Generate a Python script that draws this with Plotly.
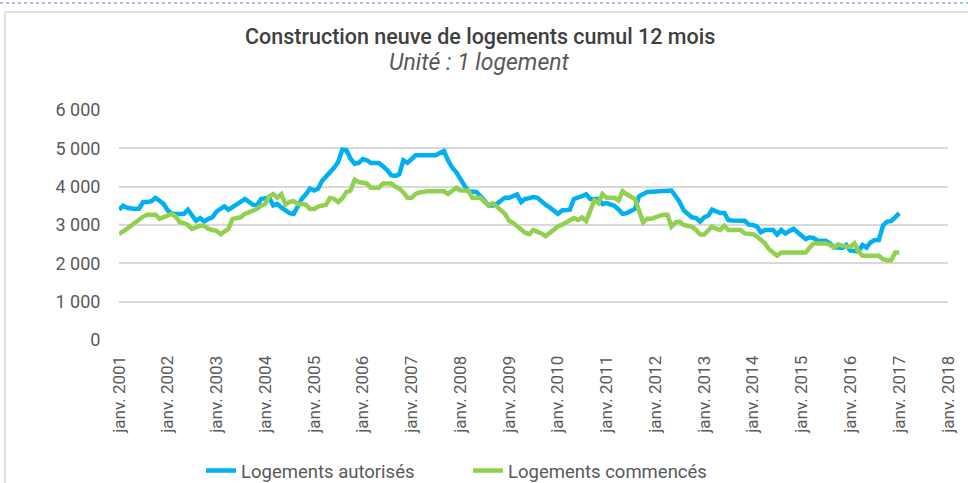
import pandas as pd
import plotly.graph_objects as go

# Monthly series, janv. 2001 -> janv. 2017
autorises = [
    3400, 3500, 3450, 3420, 3420, 3430, 3600, 3600, 3620, 3710, 3620, 3550,
    3380, 3300, 3290, 3290, 3290, 3400, 3250, 3110, 3180, 3090, 3160, 3200,
    3350, 3420, 3490, 3400, 3460, 3510, 3600, 3680, 3600, 3530, 3510, 3680,
    3700, 3710, 3510, 3550, 3460, 3380, 3310, 3290, 3510, 3680, 3800, 3950,
    3900, 3950, 4150, 4250, 4380, 4500, 4650, 4970, 4950, 4730, 4600, 4620,
    4720, 4690, 4620, 4620, 4620, 4530, 4440, 4300, 4280, 4320, 4690, 4620,
    4730, 4820, 4820, 4820, 4820, 4820, 4820, 4880, 4930, 4690, 4500, 4380,
    4230, 4030, 3880, 3870, 3860, 3750, 3640, 3510, 3510, 3550, 3640, 3710,
    3710, 3750, 3800, 3600, 3680, 3700, 3730, 3710, 3600, 3530, 3460, 3390,
    3290, 3380, 3400, 3400, 3680, 3710, 3750, 3800, 3680, 3680, 3680, 3550,
    3570, 3530, 3500, 3400, 3290, 3310, 3380, 3420, 3750, 3800, 3860, 3870,
    3880, 3900, 3900, 3900, 3900, 3750, 3600, 3380, 3300, 3200, 3180, 3090,
    3200, 3250, 3400, 3350, 3310, 3310, 3130, 3120, 3110, 3110, 3110, 3010,
    3000, 2960, 2810, 2870, 2870, 2870, 2750, 2870, 2780, 2850, 2900, 2810,
    2700, 2630, 2680, 2660, 2590, 2590, 2590, 2520, 2410, 2410, 2400, 2480,
    2330, 2320, 2310, 2480, 2410, 2550, 2610, 2610, 2980, 3090, 3100, 3200,
    3310,
]
commences = [
    2760, 2850, 2900, 2980, 3070, 3150, 3220, 3270, 3270, 3270, 3160, 3200,
    3250, 3290, 3220, 3070, 3050, 3000, 2900, 2950, 2980, 2980, 2900, 2870,
    2850, 2760, 2820, 2900, 3160, 3190, 3200, 3290, 3330, 3400, 3420, 3500,
    3550, 3750, 3810, 3710, 3800, 3530, 3600, 3620, 3550, 3550, 3530, 3420,
    3420, 3480, 3510, 3530, 3710, 3680, 3600, 3700, 3860, 3900, 4180, 4120,
    4100, 4080, 3970, 3970, 3970, 4080, 4080, 4080, 4000, 3950, 3850, 3710,
    3710, 3810, 3850, 3880, 3880, 3880, 3880, 3880, 3880, 3810, 3880, 3970,
    3900, 3900, 3900, 3710, 3710, 3710, 3600, 3510, 3570, 3460, 3380, 3290,
    3110, 3050, 2980, 2870, 2800, 2760, 2870, 2820, 2780, 2710, 2800, 2870,
    2960, 3010, 3060, 3110, 3180, 3130, 3200, 3100, 3400, 3640, 3570, 3810,
    3710, 3710, 3710, 3640, 3880, 3800, 3750, 3680, 3380, 3070, 3160, 3160,
    3200, 3250, 3270, 3270, 2960, 3070, 3090, 3000, 2980, 2950, 2870, 2750,
    2750, 2870, 2960, 2900, 2870, 2980, 2870, 2870, 2870, 2870, 2780, 2780,
    2760, 2700, 2600, 2520, 2370, 2280, 2200, 2280, 2280, 2280, 2280, 2280,
    2280, 2280, 2410, 2520, 2520, 2520, 2520, 2480, 2410, 2500, 2450, 2430,
    2430, 2520, 2310, 2200, 2200, 2200, 2200, 2200, 2110, 2080, 2080, 2280,
    2280,
]
months = pd.date_range("2001-01-01", periods=len(autorises), freq="MS")

tick_years = list(range(2001, 2019))
tick_vals = [f"{y}-01-01" for y in tick_years]
tick_text = [f"janv. {y}" for y in tick_years]
y_ticks = [0, 1000, 2000, 3000, 4000, 5000, 6000]

title_text = "Construction neuve de logements cumul 12 mois"
subtitle_text = "Unité : 1 logement"

W, H = 968, 483
L, R, T, B = 119, 20, 110, 143
pw, ph = W - L - R, H - T - B


def px(x):
    return (x - L) / pw


def py(y):
    return (H - B - y) / ph


fig = go.Figure()
fig.add_trace(go.Scatter(x=months, y=autorises, mode="lines", name="Logements autorisés",
                         line=dict(color="#00b0f0", width=4.5)))
fig.add_trace(go.Scatter(x=months, y=commences, mode="lines", name="Logements commencés",
                         line=dict(color="#92d050", width=4.5)))

grey = "#595959"
fig.update_layout(
    width=W, height=H,
    margin=dict(l=L, r=R, t=T, b=B, autoexpand=False),
    paper_bgcolor="white", plot_bgcolor="white",
    separators=", ",
    font=dict(family="Roboto", color=grey),
    showlegend=True,
    legend=dict(orientation="h", x=468 / W, y=1 - 471 / H, xref="container", yref="container",
                xanchor="center", yanchor="middle", entrywidth=222, entrywidthmode="pixels",
                font=dict(size=18.5, color=grey, family="Roboto"), bgcolor="rgba(0,0,0,0)"),
    xaxis=dict(type="date", range=["2001-01-01", "2018-01-01"], tickmode="array",
               tickvals=tick_vals, ticktext=tick_text, tickangle=-90, automargin=False,
               tickfont=dict(size=17, color=grey, family="Roboto"),
               showgrid=False, zeroline=False, showline=False,
               ticks="outside", tickcolor="rgba(0,0,0,0)", ticklen=8),
    yaxis=dict(range=[0, 6000], tickmode="array", tickvals=y_ticks, tickformat=",d",
               automargin=False,
               tickfont=dict(size=18, color=grey, family="Roboto"),
               showgrid=True, gridcolor="#d9d9d9", gridwidth=1.5, zeroline=False,
               showline=False, ticks="outside", tickcolor="rgba(0,0,0,0)", ticklen=14),
    annotations=[
        dict(text=title_text, x=px(480), y=py(36), xref="paper", yref="paper",
             showarrow=False, xanchor="center", yanchor="middle",
             font=dict(size=21.5, color="#404040", family="Roboto", weight=500)),
        dict(text=f"<i>{subtitle_text}</i>", x=px(479), y=py(62), xref="paper", yref="paper",
             showarrow=False, xanchor="center", yanchor="middle",
             font=dict(size=23, color=grey, family="Roboto")),
    ],
    shapes=[
        dict(type="rect", xref="paper", yref="paper", x0=px(5), x1=px(975), y0=py(490), y1=py(12),
             line=dict(color="#d9d9d9", width=1.5), layer="below"),
        dict(type="line", xref="paper", yref="paper", x0=px(0), x1=px(968), y0=py(3), y1=py(3),
             line=dict(color="#8fa9dc", width=1.5, dash="dot"), layer="below"),
    ],
)

fig.write_html("out.html", config={"displayModeBar": False},
               post_script="document.body.style.margin='0';")
